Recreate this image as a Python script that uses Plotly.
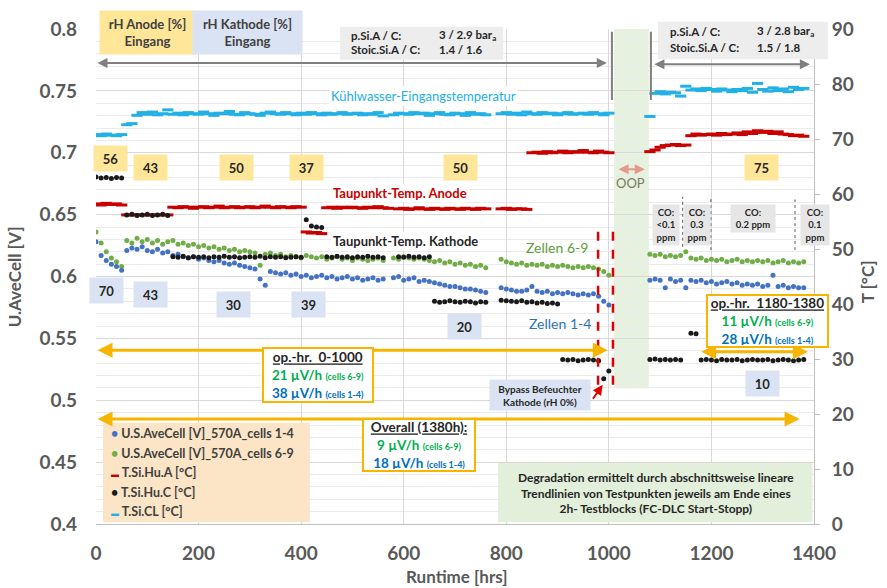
import plotly.graph_objects as go

# ---------------- data ----------------
runtime_hrs = list(range(0, 1381, 10))
N = None

cell_1_4 = [
    0.628,0.617,0.613,0.610,0.608,0.605,0.621,0.623,0.622,0.624,
    0.621,0.620,0.622,0.619,0.620,0.617,0.618,0.616,0.615,0.616,
    0.614,0.615,0.613,0.612,0.613,0.611,0.610,0.611,0.609,0.608,
    0.607,0.606,0.598,0.593,0.604,0.603,0.602,0.603,0.601,0.602,
    0.600,0.601,0.599,0.600,0.601,0.599,0.600,0.598,0.599,0.600,
    0.598,0.599,0.597,0.598,0.599,0.597,0.598,N,0.599,0.600,
    0.597,0.598,0.599,0.596,0.597,0.596,0.595,0.594,0.593,0.592,
    0.592,0.591,0.590,0.590,0.589,0.588,0.587,N,N,0.591,
    0.590,0.589,0.588,0.588,0.589,0.592,0.588,0.587,0.588,0.586,
    0.587,0.586,0.587,0.586,0.585,0.586,0.585,0.586,0.584,0.580,
    0.577,N,N,N,N,N,N,N,0.597,0.598,
    0.597,0.591,0.598,0.596,0.597,0.591,0.597,0.596,0.597,0.595,
    0.596,0.594,0.595,0.596,0.594,0.595,0.593,0.594,0.593,0.594,
    0.592,0.593,0.601,0.592,0.593,0.591,0.592,0.591,0.591]

cell_6_9 = [
    0.636,0.627,0.620,0.615,0.612,0.608,0.629,0.627,0.631,0.628,
    0.630,0.627,0.629,0.626,0.628,0.629,0.626,0.627,0.625,0.626,
    0.624,0.625,0.623,0.624,0.622,0.623,0.621,0.622,0.620,0.621,
    0.620,0.619,0.609,0.618,0.619,0.617,0.618,0.616,0.617,0.616,
    0.615,0.617,0.616,0.615,0.616,0.614,0.615,0.616,0.614,0.615,
    0.613,0.615,0.614,0.613,0.614,0.615,0.613,N,0.615,0.614,
    0.616,0.615,0.614,0.615,0.614,0.613,0.612,0.613,0.611,0.612,
    0.610,0.611,0.609,0.610,0.608,0.609,0.607,N,N,0.614,
    0.612,0.611,0.610,0.611,0.609,0.610,0.609,0.610,0.608,0.609,
    0.608,0.609,0.608,0.607,0.608,0.607,0.608,0.607,0.606,0.604,
    0.601,N,N,N,N,N,N,N,0.618,0.617,
    0.618,0.616,0.617,0.616,0.617,0.620,0.615,0.614,0.615,0.613,
    0.614,0.613,0.614,0.612,0.613,0.614,0.612,0.613,0.612,0.613,
    0.612,0.613,0.611,0.612,0.613,0.611,0.612,0.611,0.612]

t_hu_a = [
    58.2,58.0,58.3,58.1,58.2,58.0,56.2,56.2,56.2,56.2,
    56.2,56.2,56.2,56.2,56.2,57.6,57.5,57.7,57.6,57.4,
    57.6,57.7,57.5,57.6,57.8,57.5,57.6,57.7,57.5,57.6,
    57.7,57.5,57.6,57.8,57.6,57.5,57.7,57.6,57.5,57.7,
    57.6,53.1,52.9,53.0,52.8,57.5,57.6,57.4,57.6,57.5,
    57.6,57.5,57.4,57.6,57.5,57.7,57.5,57.4,N,57.3,
    57.4,57.2,57.3,57.5,57.3,57.2,57.4,57.3,57.2,57.4,
    57.3,57.2,57.4,57.3,57.2,57.4,57.3,N,N,57.3,
    57.4,57.2,57.3,57.3,57.2,67.5,67.6,67.4,67.7,67.5,
    67.6,67.8,67.5,67.7,67.6,67.9,67.6,67.5,67.8,67.6,
    67.5,N,N,N,N,N,N,N,67.7,68.0,
    68.5,68.8,68.9,69.0,68.8,68.9,70.6,70.9,70.7,70.8,
    70.9,70.7,71.0,70.8,70.9,71.1,70.8,71.3,71.0,71.5,
    71.2,71.4,71.0,71.3,70.9,70.8,70.6,70.7,70.5]

t_hu_c = [
    63.1,62.9,63.0,62.8,63.0,62.9,56.2,56.3,56.1,56.2,
    56.3,56.1,56.2,56.3,56.1,48.6,48.5,48.7,48.4,48.6,
    48.5,48.6,48.4,48.6,48.5,48.7,48.5,48.6,48.4,48.5,
    48.6,48.5,48.7,48.4,48.6,48.5,48.6,48.4,48.5,48.6,
    48.5,55.3,54.2,54.0,53.9,48.6,48.5,48.7,48.5,48.6,
    48.4,48.6,48.5,48.7,48.5,48.6,48.4,N,N,48.6,
    48.5,48.7,48.5,48.6,48.4,48.6,40.5,40.3,40.4,40.6,
    40.4,40.3,40.5,40.4,40.2,40.4,40.3,N,N,40.7,
    40.6,40.5,40.4,40.6,40.3,40.4,40.2,40.3,40.1,40.2,
    40.0,29.9,29.8,29.9,29.7,29.8,29.9,29.8,29.7,26.4,
    27.8,N,N,N,N,N,N,N,29.9,30.0,
    29.8,29.9,29.8,29.9,29.8,N,34.7,34.6,29.8,29.9,
    29.8,29.7,29.9,29.8,29.8,29.9,29.7,29.8,29.9,29.8,
    29.8,29.9,29.7,29.8,29.9,29.8,29.7,29.8,29.9]

t_cl = [
    70.8,70.6,70.9,70.7,70.6,70.8,72.6,72.8,74.3,74.8,
    74.5,74.9,74.4,74.6,75.3,74.5,74.7,74.4,74.8,74.6,
    74.5,74.9,74.6,74.3,74.7,74.6,75.0,74.5,74.4,74.8,
    74.6,74.5,74.3,74.7,74.9,74.6,74.5,74.8,74.6,74.4,
    74.7,74.5,74.8,74.6,74.4,74.7,74.5,74.6,74.8,74.5,
    74.6,74.7,74.4,74.6,74.5,74.8,74.2,N,74.4,74.7,
    74.6,74.5,74.8,74.6,74.7,74.3,74.6,74.8,74.5,74.4,
    74.7,74.6,74.3,74.8,74.5,74.6,74.4,N,N,74.6,
    74.8,74.5,74.7,74.4,74.9,74.6,74.5,74.8,74.6,74.7,
    74.4,74.6,74.8,74.5,74.6,74.7,74.5,74.8,74.6,74.4,
    74.7,N,N,N,N,N,N,N,74.1,78.3,
    78.6,78.2,78.5,78.4,77.8,79.6,78.9,79.1,78.8,79.2,
    79.0,78.7,79.1,78.9,78.6,79.0,78.8,79.2,78.5,80.1,
    79.0,78.7,79.3,78.8,79.1,78.6,79.4,79.0,79.2]

left_ticks = [0.4, 0.45, 0.5, 0.55, 0.6, 0.65, 0.7, 0.75, 0.8]
left_tick_text = ["0.4", "0.45", "0.5", "0.55", "0.6", "0.65", "0.7", "0.75", "0.8"]
right_ticks = [0, 10, 20, 30, 40, 50, 60, 70, 80, 90]
x_ticks = [0, 200, 400, 600, 800, 1000, 1200, 1400]

rh_anode = [("56", 29, 66.5), ("43", 107, 64.9), ("50", 273, 64.9),
            ("37", 411, 64.9), ("50", 710, 64.9), ("75", 1298, 64.9)]
rh_kathode = [("70", 19.5, 42.5), ("43", 107, 41.8), ("30", 269, 40.0),
              ("39", 415, 40.0), ("20", 719, 36.0), ("10", 1300, 25.6)]

# ---------------- colours / fonts ----------------
FONT = "Lato, 'Open Sans', sans-serif"
BLUE = "#4472C4"
GREEN = "#70AD47"
RED = "#C80000"
BLACK = "#1A1A1A"
CYAN = "#21B1E6"
ORANGE = "#F7B500"
GRAYTXT = "#595959"
XMAX, TMAX = 1400.0, 90.0


def xp(h):
    return h / XMAX


def yp(t):
    return t / TMAX


fig = go.Figure()

fig.add_trace(go.Scatter(x=runtime_hrs, y=t_cl, yaxis="y2", mode="markers",
                         name="T.Si.CL [°C]",
                         marker=dict(symbol="line-ew", size=8, line=dict(width=3, color=CYAN))))
fig.add_trace(go.Scatter(x=runtime_hrs, y=t_hu_a, yaxis="y2", mode="markers",
                         name="T.Si.Hu.A [°C]",
                         marker=dict(symbol="line-ew", size=8, line=dict(width=3, color=RED))))
fig.add_trace(go.Scatter(x=runtime_hrs, y=cell_6_9, mode="markers",
                         name="U.S.AveCell [V]_570A_cells 6-9",
                         marker=dict(size=5, color=GREEN)))
fig.add_trace(go.Scatter(x=runtime_hrs, y=cell_1_4, mode="markers",
                         name="U.S.AveCell [V]_570A_cells 1-4",
                         marker=dict(size=5, color=BLUE)))
fig.add_trace(go.Scatter(x=runtime_hrs, y=t_hu_c, yaxis="y2", mode="markers",
                         name="T.Si.Hu.C [°C]",
                         marker=dict(size=5, color=BLACK)))

shapes = []
annos = []

# OOP band
shapes.append(dict(type="rect", xref="x", yref="y2", x0=1010, x1=1078, y0=24.7, y1=90,
                   fillcolor="#E2EFDA", opacity=0.85, line=dict(width=0), layer="below"))
# legend box & note box
shapes.append(dict(type="rect", xref="x", yref="y2", x0=13.6, x1=417, y0=0.3, y1=18.4,
                   fillcolor="#FBE5C6", line=dict(width=0)))
shapes.append(dict(type="rect", xref="x", yref="y2", x0=784, x1=1397, y0=0.3, y1=11.1,
                   fillcolor="#E2EFDA", line=dict(width=0)))
# grey parameter boxes (paper refs so they may leave the plot area)
shapes.append(dict(type="rect", xref="paper", yref="paper", x0=xp(476), x1=xp(794),
                   y0=yp(84.4), y1=yp(90.4), fillcolor="#EDEDED", line=dict(width=0)))
shapes.append(dict(type="rect", xref="paper", yref="paper", x0=xp(1096), x1=xp(1427),
                   y0=yp(84.5), y1=yp(91.3), fillcolor="#EDEDED", line=dict(width=0)))
# grey vertical separators
for xv in (1006, 1082):
    shapes.append(dict(type="line", xref="x", yref="y2", x0=xv, x1=xv, y0=77.1, y1=89.5,
                       line=dict(color="#7F7F7F", width=2)))
# red dashed lines
for xv in (979, 1008):
    shapes.append(dict(type="line", xref="x", yref="y2", x0=xv, x1=xv, y0=25.3, y1=53.8,
                       line=dict(color="#E00000", width=2.5, dash="dash")))
# CO dotted separators
for xv, y0, y1 in ((1144, 50.4, 59.5), (1199, 49.8, 59.5), (1363, 49.8, 59.0)):
    shapes.append(dict(type="line", xref="x", yref="y2", x0=xv, x1=xv, y0=y0, y1=y1,
                       line=dict(color="#595959", width=1, dash="dot")))


def arrow(x0, x1, y0, y1, color, width, both=True, head=2):
    annos.append(dict(x=x1, y=y1, ax=x0, ay=y0, xref="x", yref="y2", axref="x", ayref="y2",
                      text="", showarrow=True, arrowhead=head, arrowsize=1,
                      arrowwidth=width, arrowcolor=color,
                      arrowside="end+start" if both else "end", standoff=0, startstandoff=0))


arrow(0, 996, 83.8, 83.8, "#7F7F7F", 2)
arrow(1086, 1392, 83.6, 83.6, "#7F7F7F", 2)
arrow(0, 998, 31.6, 31.6, ORANGE, 3)
arrow(0, 1372, 19.1, 19.1, ORANGE, 3)
arrow(1177, 1388, 31.3, 31.3, ORANGE, 3)
arrow(1016, 1070, 64.5, 64.5, "#E39A88", 2)
arrow(967, 988, 22.5, 25.3, "#E00000", 2, both=False)


def text(t, h, T, size=13, color="#404040", bold=True, xanchor="center", bg=None,
         w=None, hgt=None, angle=0, border=None, bw=0, align="center"):
    d = dict(x=xp(h), y=yp(T), xref="paper", yref="paper", text=t, showarrow=False,
             xanchor=xanchor, yanchor="middle", align=align, textangle=angle,
             font=dict(family=FONT, size=size, color=color,
                       weight="bold" if bold else "normal"))
    if bg:
        d["bgcolor"] = bg
    if w:
        d["width"] = w
    if hgt:
        d["height"] = hgt
    if border:
        d["bordercolor"] = border
        d["borderwidth"] = bw
    annos.append(d)


# top header boxes
text("rH Anode [%]<br>Eingang", 101, 89.3, size=13, bg="#FFE699", w=93, hgt=41)
text("rH Kathode [%]<br>Eingang", 296, 89.3, size=13, bg="#DAE3F3", w=107, hgt=41)
# parameter boxes
text("p.Si.A / C:", 493, 88.9, size=11.5, color="#262626", xanchor="left")
text("Stoic.Si.A / C:", 493, 86.2, size=11.5, color="#262626", xanchor="left")
text("3 / 2.9 bar<sub>a</sub>", 665, 88.9, size=11.5, color="#262626", xanchor="left")
text("1.4 / 1.6", 665, 86.2, size=11.5, color="#262626", xanchor="left")
text("p.Si.A / C:", 1115, 89.5, size=11.5, color="#262626", xanchor="left")
text("Stoic.Si.A / C:", 1115, 86.6, size=11.5, color="#262626", xanchor="left")
text("3 / 2.8 bar<sub>a</sub>", 1285, 89.5, size=11.5, color="#262626", xanchor="left")
text("1.5 / 1.8", 1285, 86.6, size=11.5, color="#262626", xanchor="left")

# rH value boxes
for lbl, h, T in rh_anode:
    text(lbl, h, T, size=13, color="#262626", bg="#FFE699", w=31, hgt=23)
for lbl, h, T in rh_kathode:
    text(lbl, h, T, size=13, color="#262626", bg="#DAE3F3", w=31, hgt=23)

# series labels
text("Kühlwasser-Eingangstemperatur", 638, 77.8, size=13, color=CYAN, bold=False, bg="white")
text("Taupunkt-Temp. Anode", 593, 60.2, size=13, color=RED, bg="white")
text("Taupunkt-Temp. Kathode", 604, 51.5, size=13, color="#262626", bg="white")
text("Zellen 6-9", 899, 50.2, size=14, color="#5E9E3A", bold=False)
text("Zellen 1-4", 905, 36.5, size=14, color="#2E75B6", bold=False)
text("OOP", 1043, 62.0, size=13, color="#7A7A5E", bold=False)

# CO boxes
text("CO:<br><0.1<br>ppm", 1111, 54.4, size=9.5, color="#262626", bg="#E7E6E6", w=24, hgt=38)
text("CO:<br>0.3<br>ppm", 1172, 54.4, size=9.5, color="#262626", bg="#E7E6E6", w=24, hgt=38)
text("CO:<br>0.2 ppm", 1281, 55.6, size=9.5, color="#262626", bg="#E7E6E6", w=42, hgt=25)
text("CO:<br>0.1<br>ppm", 1402, 54.4, size=9.5, color="#262626", bg="#E7E6E6", w=26, hgt=38)


# degradation boxes
def deg_box(title, g, b, h, T, w, hgt):
    t = ("<u>" + title + "</u><br>"
         "<span style='color:#00B050'>" + g + " µV/h <span style='font-size:9px'>(cells 6-9)</span></span><br>"
         "<span style='color:#0070C0'>" + b + " µV/h <span style='font-size:9px'>(cells 1-4)</span></span>")
    text(t, h, T, size=13.5, color="#262626", bg="white", w=w, hgt=hgt, border=ORANGE, bw=2)


deg_box("op.-hr.&nbsp;&nbsp;0-1000", "21", "38", 433, 27.1, 106, 50)
deg_box("Overall (1380h):", "9", "18", 630, 14.4, 108, 48)
deg_box("op.-hr.&nbsp;&nbsp;1180-1380", "11", "28", 1309, 36.9, 117, 48)

text("Bypass Befeuchter<br>Kathode (rH 0%)", 866, 23.5, size=10, color="#262626",
     bg="#DAE3F3", w=98, hgt=28)
text("Degradation ermittelt durch abschnittsweise lineare<br>"
     "Trendlinien von Testpunkten jeweils am Ende eines<br>"
     "2h- Testblocks (FC-DLC Start-Stopp)", 1091, 5.6, size=12, color="#262626")

# manual legend
legend_rows = [
    ("•", BLUE, "U.S.AveCell [V]_570A_cells 1-4", 16.5),
    ("•", GREEN, "U.S.AveCell [V]_570A_cells 6-9", 12.9),
    ("<span style='font-size:8px'>▬</span>", RED, "T.Si.Hu.A [°C]", 9.4),
    ("•", BLACK, "T.Si.Hu.C [°C]", 5.8),
    ("<span style='font-size:8px'>▬</span>", CYAN, "T.Si.CL [°C]", 2.2),
]
for sym, col, lbl, T in legend_rows:
    text("<span style='color:" + col + "'>" + sym + "</span> " + lbl, 25, T,
         size=12.5, color="#404040", xanchor="left", align="left")

# axis titles
annos.append(dict(x=-0.113, y=0.5, xref="paper", yref="paper", text="U.AveCell [V]",
                  showarrow=False, textangle=-90, xanchor="center", yanchor="middle",
                  font=dict(family=FONT, size=17, color=GRAYTXT, weight="bold")))
annos.append(dict(x=1.075, y=0.49, xref="paper", yref="paper", text="T [°C]",
                  showarrow=False, textangle=-90, xanchor="center", yanchor="middle",
                  font=dict(family=FONT, size=17, color=GRAYTXT, weight="bold")))
annos.append(dict(x=0.503, y=-0.107, xref="paper", yref="paper", text="Runtime [hrs]",
                  showarrow=False, xanchor="center", yanchor="middle",
                  font=dict(family=FONT, size=17, color=GRAYTXT, weight="bold")))

tickfont = dict(family=FONT, size=19, color=GRAYTXT, weight="bold")
fig.update_layout(
    width=887, height=588,
    margin=dict(l=96, r=73, t=29, b=64),
    paper_bgcolor="white", plot_bgcolor="white",
    showlegend=False,
    font=dict(family=FONT),
    shapes=shapes, annotations=annos,
    xaxis=dict(range=[0, 1400], tickvals=x_ticks, showgrid=True, gridcolor="#D9D9D9",
               gridwidth=1, zeroline=False, showline=True, linecolor="#BFBFBF",
               tickfont=tickfont, ticks="", ticklabelstandoff=12),
    yaxis=dict(range=[0.4, 0.8], tickvals=left_ticks, ticktext=left_tick_text,
               showgrid=True, gridcolor="#D9D9D9", zeroline=False,
               minor=dict(dtick=0.01, tick0=0.4, showgrid=True, gridcolor="#EBEBEB"),
               tickfont=tickfont, ticks="", ticklabelstandoff=18, showline=False),
    yaxis2=dict(range=[0, 90], tickvals=right_ticks, overlaying="y", side="right",
                showgrid=False, zeroline=False, showline=True, linecolor="#BFBFBF",
                ticks="outside", ticklen=5, tickcolor="#BFBFBF",
                tickfont=tickfont, ticklabelstandoff=8),
)

fig.write_html("out.html")
